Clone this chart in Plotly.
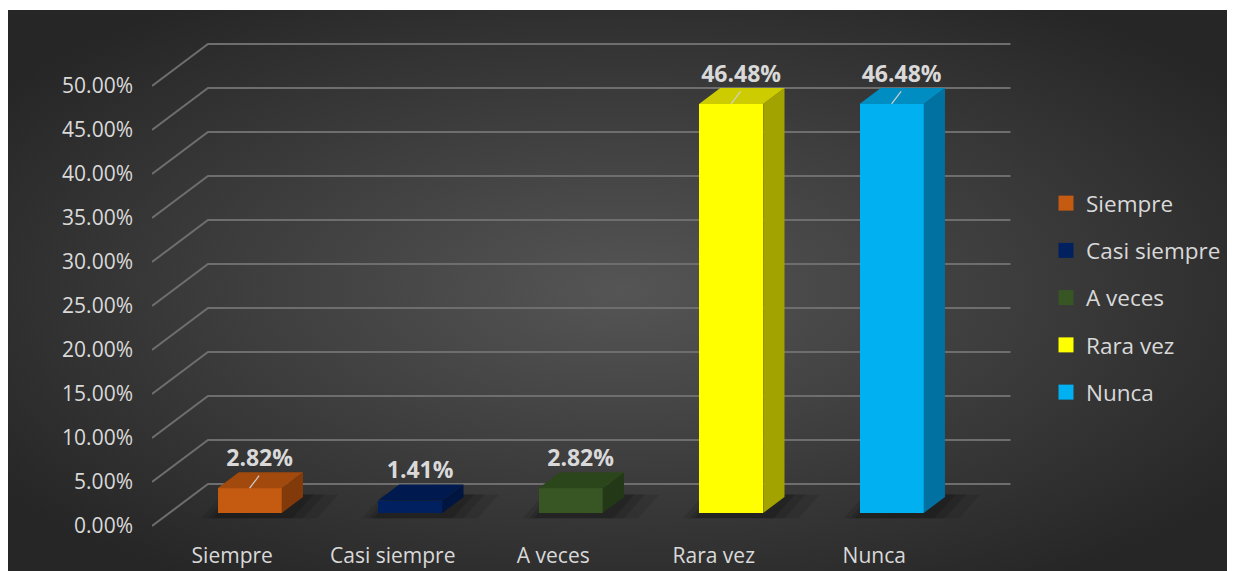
import base64
import plotly.graph_objects as go

# ---------------- data ----------------
categories = ["Siempre", "Casi siempre", "A veces", "Rara vez", "Nunca"]
values = [2.82, 1.41, 2.82, 46.48, 46.48]
y_ticks = [0, 5, 10, 15, 20, 25, 30, 35, 40, 45, 50]
y_tick_labels = [f"{t:.2f}%" for t in y_ticks]

# ---------------- styles ----------------
front_colors = ["#C55A11", "#002060", "#375623", "#FFFF00", "#00B0F0"]
top_colors = ["#A2490D", "#001A4F", "#2C461C", "#CCCC00", "#008DC2"]
side_colors = ["#823A0A", "#00153F", "#233816", "#A3A300", "#0071A0"]
leader = [True, False, False, True, True]

# the page body has an 8px margin, so the figure is placed at (8, 8)
OFF = 8
W, H = 1235 - OFF, 571 - OFF
FONT = "Open Sans"
TXT = "#D9D9D9"

# projection geometry (pixel anchors in figure coordinates)
PX_LEFT = 152.0 - OFF     # front-left of floor
CAT_STEP = 160.5          # px per category
PY_ZERO = 526.0 - OFF     # front 0% line
PX_PER_PCT = 8.8
DEPTH_PX = (56.0, 42.0)   # front->back wall offset
DXU = DEPTH_PX[0] / CAT_STEP
DYU = DEPTH_PX[1] / PX_PER_PCT
D1, D2 = 0.31, 0.69       # bar depth span
HALF_W = 0.2

L, R, T, B = PX_LEFT, 1233 - OFF, 10 - OFF, 541 - OFF
x_range = [(L - PX_LEFT) / CAT_STEP - 0.5, (R - PX_LEFT) / CAT_STEP - 0.5]
y_range = [(PY_ZERO - B) / PX_PER_PCT, (PY_ZERO - T) / PX_PER_PCT]

n = len(categories)
fig = go.Figure()
shapes = []

# gridlines (front-left diagonal + back wall) drawn below the traces
for t in y_ticks:
    path = (f"M {-0.5},{t} L {-0.5 + DXU},{t + DYU} "
            f"L {n - 0.5 + DXU},{t + DYU}")
    shapes.append(dict(type="path", path=path, xref="x", yref="y",
                       layer="below", line=dict(color="#6E6E6E", width=2)))

# soft shadows at the base of each bar
for i, v in enumerate(values):
    for grow, op in [(0.10, 0.10), (0.06, 0.12), (0.03, 0.15)]:
        xs = [i + D1 * DXU - HALF_W - grow, i + D1 * DXU + HALF_W + grow * 2.2,
              i + D2 * DXU + HALF_W + grow * 2.2, i + D2 * DXU - HALF_W - grow]
        ys = [D1 * DYU - 0.6, D1 * DYU - 0.6, D2 * DYU + 0.3, D2 * DYU + 0.3]
        path = "M " + " L ".join(f"{a},{b}" for a, b in zip(xs, ys)) + " Z"
        shapes.append(dict(type="path", path=path, xref="x", yref="y",
                           layer="below", line=dict(width=0),
                           fillcolor=f"rgba(0,0,0,{op})"))

# front faces as real bars
fig.add_trace(go.Bar(x=[i + D1 * DXU for i in range(n)], y=values,
                     base=[D1 * DYU] * n, width=2 * HALF_W,
                     marker=dict(color=front_colors, line=dict(width=0)),
                     showlegend=False, hoverinfo="skip"))

# 3D side and top faces
for i, v in enumerate(values):
    xf = i + D1 * DXU
    xb = i + D2 * DXU
    yf0, yb0 = D1 * DYU, D2 * DYU
    sx = [xf + HALF_W, xb + HALF_W, xb + HALF_W, xf + HALF_W, xf + HALF_W]
    sy = [v + yf0, v + yb0, yb0, yf0, v + yf0]
    fig.add_trace(go.Scatter(x=sx, y=sy, mode="lines", fill="toself",
                             line=dict(width=0), fillcolor=side_colors[i],
                             hoverinfo="skip", showlegend=False))
    tx = [xf - HALF_W, xf + HALF_W, xb + HALF_W, xb - HALF_W, xf - HALF_W]
    ty = [v + yf0, v + yf0, v + yb0, v + yb0, v + yf0]
    fig.add_trace(go.Scatter(x=tx, y=ty, mode="lines", fill="toself",
                             line=dict(width=0), fillcolor=top_colors[i],
                             hoverinfo="skip", showlegend=False))

# leader lines + data labels
lx, ly = [], []
for i, v in enumerate(values):
    if leader[i]:
        x0 = i + D1 * DXU
        y0 = v + D1 * DYU
        lx += [x0, x0 + 9.5 / CAT_STEP, None]
        ly += [y0, y0 + 12.5 / PX_PER_PCT, None]
fig.add_trace(go.Scatter(x=lx, y=ly, mode="lines",
                         line=dict(color="#D0D0D0", width=1.2),
                         hoverinfo="skip", showlegend=False))

fig.add_trace(go.Scatter(
    x=[i + D1 * DXU + 10 / CAT_STEP for i in range(n)],
    y=[v + D1 * DYU + 28 / PX_PER_PCT for v in values],
    mode="text", text=[f"{v:.2f}%" for v in values],
    textposition="middle center",
    textfont=dict(family=FONT, size=23, color=TXT, weight="bold"),
    hoverinfo="skip", showlegend=False))

# legend-only entries
for i, c in enumerate(categories):
    fig.add_trace(go.Scatter(x=[None], y=[None], mode="markers", name=c,
                             legendgroup=c,
                             marker=dict(symbol="square", size=15,
                                         color=front_colors[i])))

# radial gradient background as inline SVG
svg = (
    '<svg xmlns="http://www.w3.org/2000/svg" width="1226" height="561">'
    '<defs><radialGradient id="g" cx="50%" cy="50%" r="62%">'
    '<stop offset="0%" stop-color="#555555"/>'
    '<stop offset="100%" stop-color="#262626"/>'
    '</radialGradient></defs>'
    '<rect width="1226" height="561" fill="url(#g)"/></svg>'
)
src = "data:image/svg+xml;base64," + base64.b64encode(svg.encode()).decode()
bg_x0, bg_y0 = 0, 10 - OFF
bg_w, bg_h = (1233 - OFF) - bg_x0, H - bg_y0

fig.update_layout(
    width=W, height=H,
    margin=dict(l=0, r=0, t=0, b=0),
    paper_bgcolor="white",
    plot_bgcolor="rgba(0,0,0,0)",
    images=[dict(source=src, xref="paper", yref="paper",
                 x=bg_x0 / W, y=1 - bg_y0 / H, sizex=bg_w / W, sizey=bg_h / H,
                 xanchor="left", yanchor="top", sizing="stretch",
                 layer="below")],
    shapes=shapes,
    xaxis=dict(domain=[L / W, R / W], range=x_range,
               tickvals=list(range(n)), ticktext=categories,
               showgrid=False, zeroline=False, showline=False,
               tickfont=dict(family=FONT, size=21, color=TXT),
               automargin=False, fixedrange=True),
    yaxis=dict(domain=[(H - B) / H, (H - T) / H], range=y_range,
               tickvals=y_ticks, ticktext=y_tick_labels,
               showgrid=False, zeroline=False, showline=False,
               ticklabelstandoff=18,
               tickfont=dict(family=FONT, size=21, color=TXT),
               automargin=False, fixedrange=True),
    legend=dict(x=1038 / W, y=1 - 174 / H, xanchor="left", yanchor="top",
                bgcolor="rgba(0,0,0,0)",
                font=dict(family=FONT, size=22.5, color=TXT),
                tracegroupgap=15, traceorder="grouped"),
    showlegend=True,
    bargap=0,
)

fig.write_html("out.html")
